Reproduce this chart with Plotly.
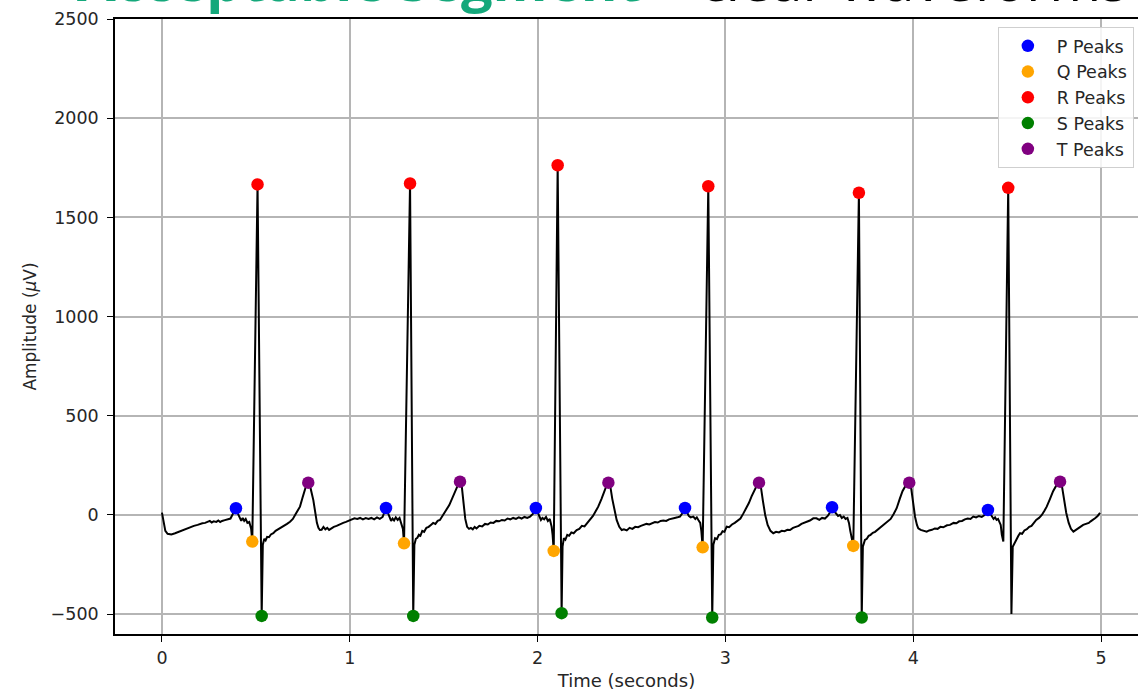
import plotly.graph_objects as go

# ---- ECG trace (seconds, microvolts) ----
time_s = [
    0.000, 0.008, 0.018, 0.030, 0.050, 0.070, 0.090, 0.110, 0.130, 0.150, 0.170, 0.190, 0.200, 0.215, 0.230,
    0.245, 0.255, 0.265, 0.275, 0.290, 0.300, 0.310, 0.320, 0.335, 0.350, 0.365, 0.380, 0.394, 0.405, 0.415,
    0.422, 0.430, 0.438, 0.446, 0.455, 0.465, 0.475, 0.481, 0.509, 0.531, 0.537, 0.545, 0.552, 0.560, 0.570,
    0.580, 0.593, 0.605, 0.620, 0.635, 0.650, 0.666, 0.682, 0.697, 0.712, 0.725, 0.735, 0.748, 0.760, 0.770,
    0.779, 0.790, 0.806, 0.815, 0.825, 0.833, 0.841, 0.850, 0.860, 0.870, 0.880, 0.890, 0.900, 0.915, 0.930,
    0.950, 0.965, 0.980, 0.995, 1.010, 1.025, 1.040, 1.055, 1.070, 1.085, 1.100, 1.115, 1.130, 1.145, 1.160,
    1.175, 1.193,
    1.203, 1.212, 1.220, 1.228, 1.236, 1.245, 1.255, 1.265, 1.275, 1.283, 1.289, 1.321, 1.338, 1.344, 1.352,
    1.360, 1.368, 1.376, 1.386, 1.396, 1.408, 1.420, 1.432, 1.444, 1.456, 1.468, 1.480, 1.495, 1.510, 1.530,
    1.548, 1.565, 1.578, 1.587, 1.597, 1.606, 1.615, 1.625, 1.635, 1.645, 1.655, 1.665, 1.675, 1.690, 1.705,
    1.720, 1.735, 1.750, 1.765, 1.780, 1.795, 1.810, 1.825, 1.840, 1.855, 1.870, 1.885, 1.900, 1.915, 1.930,
    1.945, 1.960, 1.975, 1.991,
    2.000, 2.010, 2.018, 2.026, 2.035, 2.045, 2.055, 2.065, 2.075, 2.080, 2.086, 2.107, 2.128, 2.133, 2.140,
    2.148, 2.158, 2.168, 2.180, 2.192, 2.208, 2.222, 2.236, 2.250, 2.265, 2.279, 2.295, 2.310, 2.323, 2.340,
    2.355, 2.368, 2.377, 2.388, 2.398, 2.410, 2.421, 2.435, 2.448, 2.460, 2.475, 2.490, 2.505, 2.520, 2.535,
    2.550, 2.565, 2.580, 2.595, 2.610, 2.625, 2.640, 2.655, 2.670, 2.685, 2.700, 2.715, 2.730, 2.745, 2.758,
    2.772, 2.785,
    2.795, 2.805, 2.815, 2.829, 2.840, 2.848, 2.856, 2.866, 2.872, 2.879, 2.909, 2.930, 2.936, 2.945, 2.955,
    2.965, 2.975, 2.985, 2.995, 3.007, 3.020, 3.035, 3.050, 3.065, 3.080, 3.096, 3.110, 3.125, 3.140, 3.155,
    3.168, 3.179, 3.190, 3.200, 3.212, 3.225, 3.240, 3.255, 3.270, 3.285, 3.300, 3.315, 3.330, 3.344, 3.360,
    3.375, 3.390, 3.405, 3.420, 3.435, 3.450, 3.468, 3.485, 3.500, 3.515, 3.530, 3.545, 3.555, 3.568,
    3.578, 3.590, 3.600, 3.610, 3.620, 3.630, 3.640, 3.650, 3.658, 3.665, 3.681, 3.711, 3.726, 3.732, 3.743,
    3.753, 3.763, 3.773, 3.785, 3.797, 3.810, 3.823, 3.838, 3.852, 3.866, 3.880, 3.896, 3.912, 3.928, 3.943,
    3.958, 3.970, 3.979, 3.990, 4.000, 4.010, 4.020, 4.027, 4.040, 4.055, 4.072, 4.085, 4.100, 4.115, 4.130,
    4.145, 4.160, 4.180, 4.196, 4.215, 4.230, 4.245, 4.260, 4.275, 4.290, 4.305, 4.320, 4.335, 4.350, 4.365,
    4.380, 4.398,
    4.408, 4.418, 4.428, 4.436, 4.444, 4.452, 4.460, 4.466, 4.472, 4.480, 4.506, 4.523, 4.530, 4.542, 4.552,
    4.560, 4.569, 4.580, 4.592, 4.605, 4.618, 4.630, 4.640, 4.655, 4.670, 4.685, 4.698, 4.711, 4.728, 4.745,
    4.760, 4.772, 4.782, 4.793, 4.803, 4.815, 4.828, 4.840, 4.853, 4.865, 4.878, 4.890, 4.905, 4.920, 4.935,
    4.945, 4.958, 4.970, 4.982, 4.995,
]
amplitude_uv = [
    12, -40, -80, -95, -98, -92, -85, -75, -68, -60, -55, -50, -46, -42, -40,
    -36, -30, -38, -32, -35, -28, -36, -30, -26, -20, -18, 10, 34, 5, -20,
    -30, -15, -30, -20, -40, -35, -70, -134, 1666, -509, -150, -120, -128, -110, -112,
    -98, -92, -80, -72, -62, -52, -45, -34, -20, 5, 25, 42, 85, 130, 155,
    163, 140, 75, 10, -40, -65, -76, -75, -60, -72, -65, -75, -68, -60, -55,
    -45, -40, -35, -28, -20, -17, -20, -15, -22, -16, -20, -15, -22, -12, -20,
    -10, 35,
    10, -15, -30, -18, -28, -12, -25, -15, -40, -70, -143, 1671, -509, -150, -120,
    -115, -100, -105, -80, -85, -65, -60, -50, -40, -45, -30, -25, -5, 20, 50,
    90, 130, 155, 168, 140, 60, -20, -60, -70, -65, -72, -60, -68, -55, -58,
    -45, -48, -38, -40, -30, -32, -25, -28, -18, -22, -15, -20, -12, -18, -10,
    -15, -8, 5, 35,
    15, -10, -25, -15, -22, -10, -30, -20, -60, -100, -181, 1763, -495, -160, -117,
    -125, -100, -105, -88, -92, -76, -70, -55, -58, -40, -25, -5, 20, 42, 80,
    120, 150, 163, 140, 80, 20, -25, -60, -76, -72, -78, -65, -70, -60, -62,
    -55, -50, -45, -48, -40, -36, -38, -30, -28, -30, -22, -20, -15, -12, -8,
    10, 35,
    15, -5, -12, -8, -20, -12, -25, -40, -80, -163, 1657, -517, -150, -117, -122,
    -100, -98, -82, -85, -59, -62, -48, -40, -30, -18, 8, 30, 60, 95, 125,
    150, 163, 135, 70, 0, -50, -80, -92, -85, -88, -80, -82, -75, -76, -65,
    -60, -55, -45, -40, -32, -28, -17, -17, -25, -15, -18, -5, 10, 39,
    20, 5, -5, 0, -15, -8, -20, -15, -40, -80, -156, 1624, -517, -160, -126,
    -120, -105, -100, -90, -85, -75, -67, -55, -45, -30, -20, 5, 34, 80, 120,
    145, 158, 163, 130, 60, -10, -50, -67, -75, -80, -84, -78, -75, -68, -70,
    -60, -62, -52, -50, -40, -42, -32, -30, -22, -18, -20, -8, -12, -5, -10,
    0, 25,
    10, -10, -20, -12, -25, -20, -35, -50, -100, -134, 1649, -499, -160, -134, -120,
    -105, -92, -95, -78, -72, -60, -55, -42, -25, -15, 0, 20, 42, 80, 120,
    145, 160, 168, 140, 80, 10, -40, -70, -84, -75, -70, -60, -50, -45, -40,
    -32, -25, -15, -5, 10,
]

# ---- detected peaks ----
p_time = [0.394, 1.193, 1.991, 2.785, 3.568, 4.398]
p_amp = [34, 35, 35, 35, 39, 25]
q_time = [0.481, 1.289, 2.086, 2.879, 3.681]
q_amp = [-134, -143, -181, -163, -156]
r_time = [0.509, 1.321, 2.107, 2.909, 3.711, 4.506]
r_amp = [1666, 1671, 1763, 1657, 1624, 1649]
s_time = [0.531, 1.338, 2.128, 2.930, 3.726]
s_amp = [-509, -509, -495, -517, -517]
t_time = [0.779, 1.587, 2.377, 3.179, 3.979, 4.782]
t_amp = [163, 168, 163, 163, 163, 168]

peak_series = [
    ("P Peaks", p_time, p_amp, "blue"),
    ("Q Peaks", q_time, q_amp, "orange"),
    ("R Peaks", r_time, r_amp, "red"),
    ("S Peaks", s_time, s_amp, "green"),
    ("T Peaks", t_time, t_amp, "purple"),
]

y_ticks = [-500, 0, 500, 1000, 1500, 2000, 2500]
y_ticktext = ["\u2212500", "0", "500", "1000", "1500", "2000", "2500"]
x_ticks = [0, 1, 2, 3, 4, 5]

FONT = "DejaVu Sans"
TXT = "#262626"

fig = go.Figure()
fig.add_trace(go.Scatter(x=time_s, y=amplitude_uv, mode="lines",
                         line=dict(color="black", width=2), showlegend=False,
                         hoverinfo="skip"))
for name, xs, ys, col in peak_series:
    fig.add_trace(go.Scatter(x=xs, y=ys, mode="markers", name=name,
                             marker=dict(color=col, size=12.5)))

fig.update_layout(
    width=1138, height=693,
    margin=dict(l=115, r=0, t=19, b=59),
    paper_bgcolor="white", plot_bgcolor="white",
    font=dict(family=FONT, size=17, color=TXT),
    xaxis=dict(range=[-0.25, 5.197], tickvals=x_ticks, showgrid=True,
               gridcolor="#b5b5b5", gridwidth=1.7, zeroline=False,
               showline=True, linecolor="black", linewidth=1.6, mirror=True,
               ticks="outside", ticklen=6, tickcolor="black", tickwidth=1.3,
               tickfont=dict(size=17.5), ticklabelstandoff=1,
               title=dict(text="Time (seconds)", font=dict(size=18), standoff=8)),
    yaxis=dict(range=[-600, 2500], tickvals=y_ticks, ticktext=y_ticktext,
               showgrid=True, gridcolor="#b5b5b5", gridwidth=1.7, zeroline=False,
               showline=True, linecolor="black", linewidth=1.6, mirror=False,
               ticks="outside", ticklen=6, tickcolor="black", tickwidth=1.3,
               tickfont=dict(size=17.5), ticklabelstandoff=5,
               title=dict(text="Amplitude (<i>\u03bc</i>V)", font=dict(size=17), standoff=10)),
    legend=dict(x=0.863, y=0.987, xanchor="left", yanchor="top",
                bgcolor="rgba(255,255,255,0.85)", bordercolor="#cfcfcf", borderwidth=1,
                font=dict(family=FONT, size=17.5, color=TXT), itemwidth=48),
    showlegend=True,
)

fig.add_annotation(
    xref="paper", yref="paper", x=-0.0391, y=1, xanchor="left", yanchor="bottom",
    yshift=0, showarrow=False,
    text="<b><span style='color:#14a87b'>Acceptable segment</span></b> \u2013 clear waveforms",
    font=dict(family="Open Sans", size=56, color="black"),
)

fig.write_html("out.html", config={"displayModeBar": False},
               post_script="document.body.style.margin='0px';document.body.style.overflow='hidden';")
